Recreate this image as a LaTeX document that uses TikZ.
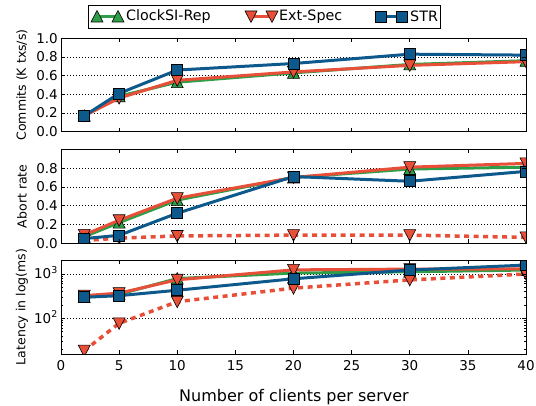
\documentclass[tikz,border=0pt]{standalone}
\usepackage{fontspec}
\setmainfont{DejaVu Sans}
\usepackage{tikz}
\definecolor{csgreen}{RGB}{46,158,72}
\definecolor{esred}{RGB}{231,79,56}
\definecolor{stblue}{RGB}{13,89,140}
\tikzset{frame/.style={draw=black, line width=0.9pt}}
\tikzset{gridline/.style={draw=black, line width=0.5pt, dash pattern=on 1pt off 2pt}}
\tikzset{tickline/.style={draw=black, line width=0.7pt}}
\tikzset{ticklabel/.style={font=\fontsize{13.5}{15}\selectfont, inner sep=0pt}}
\tikzset{axislabel/.style={font=\fontsize{12.5}{15}\selectfont, inner sep=0pt}}
\tikzset{legendtext/.style={font=\fontsize{14.3}{16}\selectfont, inner sep=0pt, anchor=west}}
\tikzset{csline/.style={draw=csgreen, line width=3pt, line join=round}}
\tikzset{esline/.style={draw=esred, line width=3pt, line join=round}}
\tikzset{esdots/.style={draw=esred, line width=3.5pt, dash pattern=on 5pt off 4.5pt}}
\tikzset{stline/.style={draw=stblue, line width=3pt, line join=round}}
\tikzset{csmark/.pic={\filldraw[fill=csgreen, draw=black, line width=0.6pt] (-6pt,-5.5pt) -- (6pt,-5.5pt) -- (0pt,6pt) -- cycle;}}
\tikzset{esmark/.pic={\filldraw[fill=esred, draw=black, line width=0.6pt] (-6pt,5.5pt) -- (6pt,5.5pt) -- (0pt,-6pt) -- cycle;}}
\tikzset{stmark/.pic={\filldraw[fill=stblue, draw=black, line width=0.6pt] (-5.5pt,-5.5pt) rectangle (5.5pt,5.5pt);}}

% one data series: prefix, line style, marker, x/y list
\newcommand{\series}[4]{%
  \foreach \x/\y [count=\i] in {#4} \coordinate (#1\i) at (\x,{yv(\y)});
  \draw[#2] (#11) -- (#12) -- (#13) -- (#14) -- (#15) -- (#16);
  \foreach \i in {1,...,6} \pic at (#1\i) {#3};
}
% box and x ticks of a panel
\newcommand{\panelframe}[2]{%
  \draw[frame] (0,#1) rectangle (40,#2);
  \foreach \t in {0,5,...,40} {
    \draw[tickline] (\t,#1) -- ++(0,4pt);
    \draw[tickline] (\t,#2) -- ++(0,-4pt);
  }
}

\begin{document}
\begin{tikzpicture}[x=1pt, y=-1pt]
\useasboundingbox (0,0) rectangle (536,406);

% legend
\node[frame, fill=white, minimum width=352pt, minimum height=23pt, inner sep=0pt] (legend) at (264,16.5) {};
\coordinate (lcs1) at (97,16.5);
\coordinate (lcs2) at (118,16.5);
\draw[csline] (lcs1) -- (lcs2);
\pic at (lcs1) {csmark};
\pic at (lcs2) {csmark};
\node[legendtext] (lcs) at (126,16.5) {ClockSI-Rep};
\coordinate (les1) at (251,16.5);
\coordinate (les2) at (272,16.5);
\draw[esline] (les1) -- (les2);
\pic at (les1) {esmark};
\pic at (les2) {esmark};
\node[legendtext] (les) at (279,16.5) {Ext-Spec};
\coordinate (lst1) at (381,16.5);
\coordinate (lst2) at (402,16.5);
\draw[stline] (lst1) -- (lst2);
\pic at (lst1) {stmark};
\pic at (lst2) {stmark};
\node[legendtext] (lst) at (410,16.5) {STR};

% commits
\begin{scope}[shift={(61,131.7)}, x=11.625pt, y=93.4pt, declare function={yv(\v)=\v;}]
  \foreach \v in {0.2,0.4,0.6,0.8} \draw[gridline] (0,\v) -- (40,\v);
  \begin{scope}
    \clip (0,0) rectangle (40,1);
    \series{ccs}{csline}{csmark}{2/0.17,5/0.38,10/0.53,20/0.63,30/0.72,40/0.76}
    \series{ces}{esline}{esmark}{2/0.17,5/0.36,10/0.55,20/0.64,30/0.71,40/0.75}
    \series{cst}{stline}{stmark}{2/0.17,5/0.41,10/0.66,20/0.73,30/0.83,40/0.82}
  \end{scope}
  \panelframe{0}{1}
  \foreach \v/\t [count=\i] in {0/0.0,0.2/0.2,0.4/0.4,0.6/0.6,0.8/0.8,1/1.0} {
    \draw[tickline] (0,\v) -- ++(4pt,0);
    \draw[tickline] (40,\v) -- ++(-4pt,0);
    \node[ticklabel, anchor=east] (cy\i) at ([xshift=-3pt]0,\v) {\t};
  }
\end{scope}
\node[axislabel, rotate=90] (ycommits) at (22,85) {Commits (K txs/s)};

% abort rate
\begin{scope}[shift={(61,243.3)}, x=11.625pt, y=94pt, declare function={yv(\v)=\v;}]
  \foreach \v in {0.2,0.4,0.6,0.8} \draw[gridline] (0,\v) -- (40,\v);
  \begin{scope}
    \clip (0,0) rectangle (40,1);
    \series{acs}{csline}{csmark}{2/0.07,5/0.22,10/0.46,20/0.70,30/0.79,40/0.81}
    \series{aes}{esline}{esmark}{2/0.09,5/0.245,10/0.48,20/0.70,30/0.81,40/0.85}
    \series{aed}{esdots}{esmark}{2/0.03,5/0.055,10/0.078,20/0.087,30/0.087,40/0.063}
    \series{ast}{stline}{stmark}{2/0.05,5/0.085,10/0.32,20/0.71,30/0.66,40/0.765}
  \end{scope}
  \panelframe{0}{1}
  \foreach \v/\t [count=\i] in {0/0.0,0.2/0.2,0.4/0.4,0.6/0.6,0.8/0.8} {
    \draw[tickline] (0,\v) -- ++(4pt,0);
    \draw[tickline] (40,\v) -- ++(-4pt,0);
    \node[ticklabel, anchor=east] (ay\i) at ([xshift=-3pt]0,\v) {\t};
  }
\end{scope}
\node[axislabel, rotate=90] (yabort) at (22,196.3) {Abort rate};

% latency, log scale
\begin{scope}[shift={(61,318.3)}, x=11.625pt, y=44.3pt, declare function={yv(\v)=log10(\v)-2;}]
  \foreach \v in {0,1} \draw[gridline] (0,\v) -- (40,\v);
  \begin{scope}
    \clip (0,-0.806) rectangle (40,1.316);
    \series{lcs}{csline}{csmark}{2/300,5/350,10/790,20/1050,30/1120,40/1230}
    \series{les}{esline}{esmark}{2/325,5/370,10/740,20/1240,30/1290,40/1300}
    \series{led}{esdots}{esmark}{2/18.6,5/77,10/237,20/480,30/735,40/1000}
    \series{lst}{stline}{stmark}{2/298,5/324,10/430,20/780,30/1230,40/1590}
  \end{scope}
  \panelframe{-0.806}{1.316}
  \foreach \m in {20,30,40,50,60,70,80,90,200,300,400,500,600,700,800,900,2000} {
    \draw[tickline] (0,{log10(\m)-2}) -- ++(2pt,0);
    \draw[tickline] (40,{log10(\m)-2}) -- ++(-2pt,0);
  }
  \foreach \v/\t in {0/2,1/3} {
    \draw[tickline] (0,\v) -- ++(4pt,0);
    \draw[tickline] (40,\v) -- ++(-4pt,0);
    \node[ticklabel, anchor=base east] (ly\t) at ([xshift=-3pt, yshift=-4.9pt]0,\v) {10\textsuperscript{\t}};
  }
  \foreach \t in {0,5,...,40}
    \node[ticklabel, anchor=north] (xt\t) at ([yshift=-6pt]\t,-0.806) {\t};
\end{scope}
\node[axislabel, rotate=90] (ylatency) at (22,307) {Latency in log(ms)};

\node[font=\fontsize{16}{18}\selectfont, inner sep=0pt, anchor=base] (xlabel) at (294,401) {Number of clients per server};
\end{tikzpicture}
\end{document}
